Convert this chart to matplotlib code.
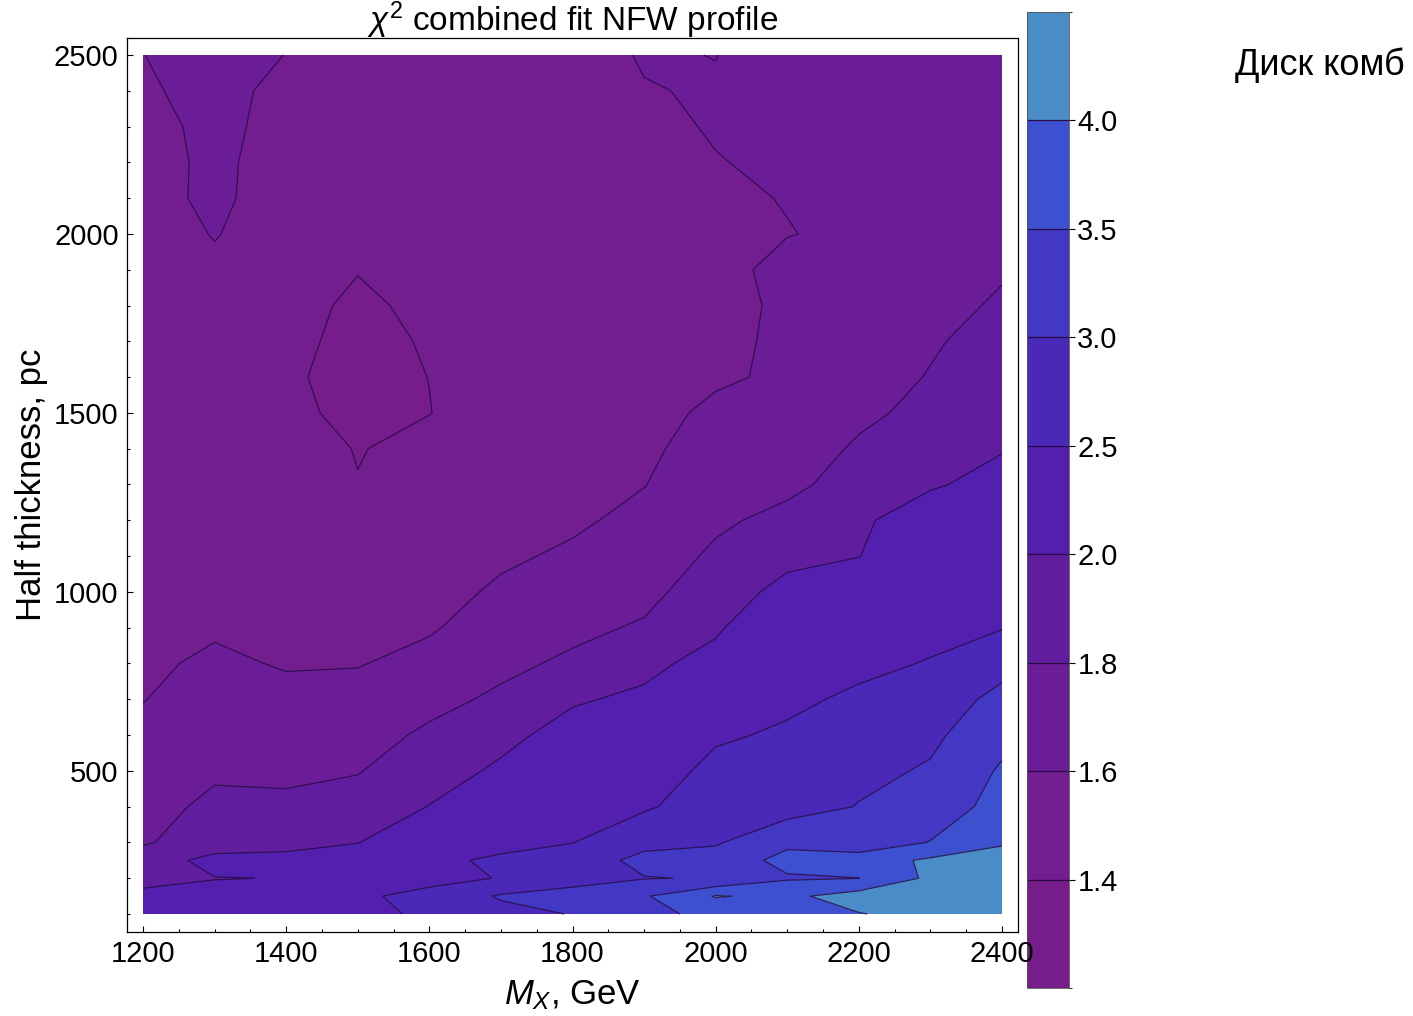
import numpy as np
import matplotlib
matplotlib.use("Agg")
import matplotlib.pyplot as plt
import matplotlib as mpl
from matplotlib.colors import ListedColormap, BoundaryNorm
from matplotlib.ticker import MultipleLocator

plt.rcParams["font.family"] = ["Liberation Sans", "DejaVu Sans"]
plt.rcParams["mathtext.fontset"] = "custom"
plt.rcParams["mathtext.rm"] = "Liberation Sans"
plt.rcParams["mathtext.it"] = "Liberation Sans:italic"

# mass grid (GeV) and half thickness grid (pc)
mass = [1200, 1300, 1400, 1500, 1600, 1700, 1800, 1900, 2000, 2100, 2200, 2300, 2400]
thickness = [100, 150, 200, 250, 300, 400, 500, 600, 700, 800, 900, 1000, 1100,
             1200, 1300, 1400, 1500, 1600, 1700, 1800, 1900, 2000, 2100, 2200,
             2300, 2400, 2500]

# chi^2 per row of thickness
chi2 = [
    [2.15, 2.2, 2.2, 2.4, 2.56, 2.85, 3.02, 3.3, 3.7, 3.85, 3.98, 4.15, 4.3],
    [2.04, 2.05, 2.1, 2.42, 2.65, 3.05, 3.1, 3.45, 4.03, 3.9, 4.21, 4.3, 4.35],
    [1.95, 1.995, 2.004, 2.25, 2.35, 2.522, 2.9, 2.98, 3.03, 3.45, 3.495, 4.1, 4.3],
    [1.9, 2.06, 2.04, 2.1, 2.3, 2.65, 2.7, 3.15, 3.2, 3.65, 3.75, 4.08, 4.2],
    [1.78, 1.9, 1.957, 1.995, 2.15, 2.23, 2.49, 2.85, 2.95, 3.4, 3.18, 3.52, 3.95],
    [1.74, 1.836, 1.839, 1.88, 2.005, 2.1, 2.3, 2.438, 2.75, 2.78, 3.02, 3.15, 3.72],
    [1.69, 1.776, 1.761, 1.79, 1.92, 2.03, 2.16, 2.3, 2.6, 2.68, 2.88, 3.05, 3.56],
    [1.64, 1.727, 1.703, 1.73, 1.83, 1.95, 2.07, 2.17, 2.45, 2.55, 2.72, 2.9, 3.35],
    [1.595, 1.678, 1.645, 1.67, 1.75, 1.83, 1.98, 2.035, 2.3, 2.43, 2.56, 2.75, 3.13],
    [1.57, 1.629, 1.587, 1.59, 1.66, 1.76, 1.83, 1.95, 2.07, 2.3, 2.42, 2.52, 2.85],
    [1.55, 1.58, 1.56, 1.55, 1.58, 1.7, 1.76, 1.82, 1.97, 2.2, 2.28, 2.4, 2.48],
    [1.54, 1.56, 1.535, 1.52, 1.53, 1.63, 1.7, 1.75, 1.9, 2.06, 2.14, 2.3, 2.35],
    [1.53, 1.54, 1.51, 1.49, 1.49, 1.57, 1.63, 1.7, 1.83, 1.95, 1.995, 2.2, 2.25],
    [1.52, 1.53, 1.49, 1.46, 1.46, 1.53, 1.57, 1.65, 1.77, 1.85, 1.97, 2.1, 2.15],
    [1.51, 1.52, 1.47, 1.4035, 1.44, 1.5, 1.54, 1.595, 1.72, 1.76, 1.87, 1.98, 2.06],
    [1.51, 1.51, 1.45, 1.395, 1.43, 1.47, 1.52, 1.57, 1.67, 1.72, 1.82, 1.95, 1.99],
    [1.51, 1.50, 1.4226, 1.375, 1.398, 1.45, 1.5, 1.55, 1.63, 1.68, 1.77, 1.84, 1.95],
    [1.52, 1.50, 1.413, 1.37, 1.401, 1.44, 1.49, 1.54, 1.58, 1.6226, 1.72, 1.81, 1.91],
    [1.53, 1.51, 1.4226, 1.375, 1.4075, 1.44, 1.48, 1.53, 1.56, 1.63, 1.7, 1.78, 1.87],
    [1.54, 1.53, 1.428, 1.385, 1.4183, 1.45, 1.48, 1.53, 1.55, 1.627, 1.69, 1.75, 1.82],
    [1.55, 1.585, 1.45, 1.403, 1.43, 1.46, 1.49, 1.53, 1.55, 1.646, 1.68, 1.73, 1.785],
    [1.56, 1.604, 1.56, 1.43, 1.45, 1.47, 1.5, 1.54, 1.56, 1.595, 1.628, 1.72, 1.77],
    [1.57, 1.618, 1.558, 1.46, 1.47, 1.49, 1.51, 1.55, 1.575, 1.606, 1.65, 1.71, 1.76],
    [1.58, 1.611, 1.578, 1.49, 1.49, 1.51, 1.52, 1.56, 1.595, 1.621, 1.66, 1.7, 1.75],
    [1.59, 1.608, 1.590, 1.52, 1.51, 1.53, 1.54, 1.57, 1.61, 1.63, 1.67, 1.7, 1.75],
    [1.595, 1.612, 1.590, 1.54, 1.53, 1.55, 1.56, 1.597, 1.605, 1.632, 1.68, 1.7, 1.75],
    [1.599, 1.632, 1.5987, 1.56, 1.55, 1.56, 1.574, 1.605, 1.599, 1.632, 1.69, 1.7, 1.75],
]

levels = [1.4, 1.6, 1.8, 2.0, 2.5, 3.0, 3.5, 4.0]
bounds = [1.2] + levels + [4.5]
band_colors = ["#761c8b", "#721e8e", "#6a1d96", "#601e9e", "#521fae",
               "#4a28b8", "#4238c4", "#3d50d0", "#4a8cc8"]

X, Y = np.meshgrid(mass, thickness)
Z = np.array(chi2)

fig = plt.figure(figsize=(14.13, 10.16), dpi=100)
ax = fig.add_axes([127 / 1413, 1 - 932 / 1016, 891 / 1413, 894 / 1016])
ax.set_zorder(2)

ax.contourf(X, Y, Z, levels=bounds, colors=band_colors)
ax.contour(X, Y, Z, levels=levels, colors="#2a0c45", linewidths=0.9, alpha=0.85)

ax.set_xlim(1177.6, 2422.4)
ax.set_ylim(49.7, 2547.5)
ax.xaxis.set_major_locator(MultipleLocator(200))
ax.xaxis.set_minor_locator(MultipleLocator(50))
ax.yaxis.set_major_locator(MultipleLocator(500))
ax.yaxis.set_minor_locator(MultipleLocator(100))
ax.set_yticks([500, 1000, 1500, 2000, 2500])
ax.tick_params(which="both", direction="in", width=0.8, labelsize=21, pad=6)
ax.tick_params(which="major", length=4)
ax.tick_params(which="minor", length=2.5)
for s in ax.spines.values():
    s.set_linewidth(0.9)

fig.text(572.5 / 1413, 1 - 31 / 1016, r"$\chi^2$ combined fit NFW profile",
         fontsize=24, ha="center", va="baseline")
ax.set_xlabel(r"$M_X$, GeV", fontsize=25, labelpad=7)
ax.set_ylabel("Half thickness, pc", fontsize=25, labelpad=4)

# banded legend bar
cax = fig.add_axes([1027 / 1413, 1 - 988 / 1016, 42 / 1413, 976 / 1016])
cax.set_zorder(1)
cmap = ListedColormap(band_colors)
norm = BoundaryNorm(bounds, cmap.N)
cb = mpl.colorbar.ColorbarBase(cax, cmap=cmap, norm=norm, boundaries=bounds,
                               spacing="uniform", ticks=levels, format="%.1f")
cb.add_lines(levels, ["#2a0c45"] * len(levels), [0.9] * len(levels))
cb.outline.set_linewidth(0.6)
cb.outline.set_edgecolor("#555555")
cax.tick_params(direction="out", length=4, width=0.8, labelsize=21, pad=2)

fig.text(1235 / 1413, 1 - 75 / 1016, "Диск комб", fontsize=26, ha="left", va="baseline")

fig.savefig("out.png", dpi=100)
